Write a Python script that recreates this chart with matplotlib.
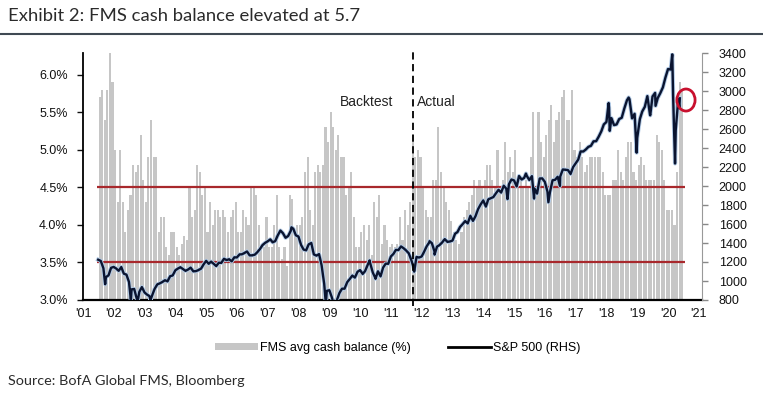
#!/usr/bin/env python3
"""FMS cash balance (bars, LHS) vs S&P 500 (line, RHS)."""

import matplotlib
matplotlib.use("Agg")
import matplotlib.pyplot as plt
import matplotlib.patheffects as pe
import pandas as pd
from matplotlib.lines import Line2D
from matplotlib.patches import Ellipse, Patch

# ---- data -------------------------------------------------------------
# FMS avg cash balance (%), monthly; 2001 starts in Jul, 2020 ends in Jun
cash_2001 = [5.7, 5.8, 5.4, 5.8, 6.3, 5.9]
cash_2002 = [5.0, 4.3, 5.0, 4.3, 3.9, 4.2, 4.4, 4.8, 4.7, 4.8, 5.2, 4.6]
cash_2003 = [4.3, 4.9, 5.4, 4.9, 4.9, 3.9, 4.1, 4.1, 3.7, 3.6, 3.9, 3.9]
cash_2004 = [3.7, 3.6, 3.75, 3.85, 3.8, 4.5, 4.1, 4.2, 4.8, 4.7, 4.4, 4.5]
cash_2005 = [3.9, 4.3, 4.0, 4.2, 4.2, 4.1, 4.2, 4.1, 3.9, 4.1, 4.2, 4.3]
cash_2006 = [3.9, 3.9, 4.2, 4.1, 4.0, 4.5, 4.5, 4.4, 4.0, 3.7, 3.7, 4.1]
cash_2007 = [3.7, 3.7, 4.0, 4.4, 3.7, 3.55, 3.7, 3.45, 4.4, 4.35, 3.9, 4.0]
cash_2008 = [4.0, 4.1, 4.7, 4.9, 4.2, 4.0, 4.7, 4.8, 4.7, 4.8, 5.3, 5.1]
cash_2009 = [5.5, 5.3, 5.0, 5.2, 4.9, 4.9, 4.4, 4.5, 4.7, 4.1, 3.7, 3.7]
cash_2010 = [3.9, 4.0, 3.8, 4.0, 3.6, 4.3, 4.1, 4.4, 3.75, 4.0, 3.8, 3.7]
cash_2011 = [3.75, 3.7, 3.75, 4.1, 3.8, 4.2, 4.0, 4.3, 5.2, 4.9, 5.0, 4.9]
cash_2012 = [4.5, 4.2, 4.1, 4.1, 4.6, 4.6, 5.3, 4.7, 4.5, 4.3, 4.2, 4.05]
cash_2013 = [3.9, 3.8, 3.75, 3.9, 4.1, 4.2, 4.3, 4.4, 4.6, 4.5, 4.6, 4.5]
cash_2014 = [4.6, 4.8, 4.8, 4.6, 4.5, 5.0, 4.5, 4.6, 5.1, 4.7, 4.9, 4.7]
cash_2015 = [5.0, 4.5, 4.6, 4.5, 4.6, 4.5, 4.9, 5.5, 4.5, 5.5, 5.1, 4.9]
cash_2016 = [5.2, 5.4, 5.6, 5.1, 5.4, 5.5, 5.7, 5.8, 5.4, 5.4, 5.8, 5.0]
cash_2017 = [4.9, 5.1, 4.9, 4.7, 4.8, 4.9, 4.9, 4.9, 4.9, 4.9, 4.7, 4.4]
cash_2018 = [4.4, 4.4, 4.6, 4.6, 5.0, 4.7, 4.6, 4.9, 5.1, 5.1, 4.7, 4.6]
cash_2019 = [4.8, 4.9, 4.8, 4.6, 4.6, 4.6, 4.6, 5.2, 5.1, 5.0, 4.6, 4.2]
cash_2020 = [4.2, 4.2, 4.0, 4.7, 5.9, 5.8]

# S&P 500 month-end closes; 2001 starts in Jun, 2020 ends in Apr
spx_2001 = [1224, 1211, 1134, 1041, 1060, 1139, 1148]
spx_2002 = [1130, 1107, 1147, 1077, 1067, 990, 912, 916, 815, 886, 936, 880]
spx_2003 = [856, 841, 848, 917, 964, 975, 990, 1008, 996, 1051, 1058, 1112]
spx_2004 = [1131, 1145, 1126, 1107, 1121, 1141, 1102, 1104, 1115, 1130, 1174, 1212]
spx_2005 = [1181, 1204, 1181, 1157, 1192, 1191, 1234, 1220, 1229, 1207, 1249, 1248]
spx_2006 = [1280, 1281, 1295, 1311, 1270, 1270, 1277, 1304, 1336, 1378, 1401, 1418]
spx_2007 = [1438, 1407, 1421, 1482, 1531, 1503, 1455, 1474, 1527, 1549, 1481, 1468]
spx_2008 = [1379, 1331, 1323, 1386, 1400, 1280, 1267, 1283, 1166, 969, 896, 903]
spx_2009 = [826, 735, 798, 873, 919, 919, 987, 1021, 1057, 1036, 1096, 1115]
spx_2010 = [1074, 1104, 1169, 1187, 1089, 1031, 1102, 1049, 1141, 1183, 1181, 1258]
spx_2011 = [1286, 1327, 1326, 1364, 1345, 1321, 1292, 1219, 1131, 1253, 1247, 1258]
spx_2012 = [1312, 1366, 1408, 1398, 1310, 1362, 1379, 1407, 1441, 1412, 1416, 1426]
spx_2013 = [1498, 1515, 1569, 1598, 1631, 1606, 1686, 1633, 1682, 1757, 1806, 1848]
spx_2014 = [1783, 1859, 1872, 1884, 1924, 1960, 1931, 2003, 1972, 2018, 2068, 2059]
spx_2015 = [1995, 2105, 2068, 2086, 2107, 2063, 2104, 1972, 1920, 2079, 2080, 2044]
spx_2016 = [1940, 1932, 2060, 2065, 2097, 2099, 2174, 2171, 2168, 2126, 2199, 2239]
spx_2017 = [2279, 2364, 2363, 2384, 2412, 2423, 2470, 2472, 2519, 2575, 2648, 2674]
spx_2018 = [2824, 2714, 2641, 2648, 2705, 2718, 2816, 2902, 2914, 2712, 2760, 2507]
spx_2019 = [2704, 2784, 2834, 2946, 2752, 2942, 2980, 2926, 2977, 3038, 3141, 3231]
spx_2020 = [3226, 2954, 2585, 2912]

# intra-month highs / lows that show up in the daily line
spx_extra_dates = ["2001-09-21", "2002-07-23", "2002-10-09", "2003-03-11", "2007-10-09",
                   "2008-11-20", "2009-03-09", "2010-04-23", "2010-07-02", "2011-04-29",
                   "2011-10-03", "2012-04-02", "2012-06-01", "2014-10-15", "2015-05-21",
                   "2015-08-25", "2016-02-11", "2016-06-27", "2018-01-26", "2018-02-08",
                   "2018-09-20", "2018-12-24", "2019-06-03", "2019-08-05", "2020-02-19",
                   "2020-03-23", "2020-05-13", "2020-05-19"]
spx_extra_values = [966, 797, 777, 800, 1565,
                    752, 677, 1217, 1023, 1364,
                    1099, 1419, 1278, 1862, 2131,
                    1868, 1829, 2001, 2873, 2581,
                    2931, 2351, 2744, 2844, 3386,
                    2237, 2820, 2923]

cash_pct_ticks = [3.0, 3.5, 4.0, 4.5, 5.0, 5.5, 6.0]
spx_ticks = list(range(800, 3401, 200))
year_ticks = list(range(2001, 2022))
thresholds = [4.5, 3.5]
actual_start = 2011.72


def decimal_year(ts: pd.Timestamp) -> float:
    return ts.year + (ts.dayofyear - 1) / 365.25


def build_cash():
    years = {2001: cash_2001, 2002: cash_2002, 2003: cash_2003, 2004: cash_2004,
             2005: cash_2005, 2006: cash_2006, 2007: cash_2007, 2008: cash_2008,
             2009: cash_2009, 2010: cash_2010, 2011: cash_2011, 2012: cash_2012,
             2013: cash_2013, 2014: cash_2014, 2015: cash_2015, 2016: cash_2016,
             2017: cash_2017, 2018: cash_2018, 2019: cash_2019, 2020: cash_2020}
    xs, vals = [], []
    for yr, v in years.items():
        first = 7 if yr == 2001 else 1
        for i, val in enumerate(v):
            xs.append(yr + (first + i - 0.5) / 12)
            vals.append(val)
    return xs, vals


def build_spx():
    years = {2001: spx_2001, 2002: spx_2002, 2003: spx_2003, 2004: spx_2004,
             2005: spx_2005, 2006: spx_2006, 2007: spx_2007, 2008: spx_2008,
             2009: spx_2009, 2010: spx_2010, 2011: spx_2011, 2012: spx_2012,
             2013: spx_2013, 2014: spx_2014, 2015: spx_2015, 2016: spx_2016,
             2017: spx_2017, 2018: spx_2018, 2019: spx_2019, 2020: spx_2020}
    rows = []
    for yr, v in years.items():
        first = 6 if yr == 2001 else 1
        for i, val in enumerate(v):
            rows.append((pd.Timestamp(yr, first + i, 1) + pd.offsets.MonthEnd(0), val))
    for d, val in zip(spx_extra_dates, spx_extra_values):
        rows.append((pd.Timestamp(d), val))
    df = pd.DataFrame(rows, columns=["date", "spx"]).sort_values("date")
    return [decimal_year(d) for d in df["date"]], df["spx"].tolist()


# ---- plot -------------------------------------------------------------
plt.rcParams["font.family"] = ["Liberation Sans", "DejaVu Sans"]

W, H = 763, 397
fig = plt.figure(figsize=(W / 100, H / 100), dpi=100)
ax = fig.add_axes([83 / W, 1 - 300 / H, (702 - 83) / W, (300 - 53) / H])
ax2 = ax.twinx()

cx, cv = build_cash()
ax.bar(cx, cv, width=0.068, color="#c6c6c6", edgecolor="none", zorder=1)
ax.hlines(thresholds, 2001.47, 2020.55, color="#a8282c", lw=1.6, zorder=2)
ax.set_xlim(2001, 2021.1)
ax.set_ylim(3.0, 6.29)
ax.set_yticks(cash_pct_ticks)
ax.set_yticklabels([f"{t:.1f}%" for t in cash_pct_ticks])
ax.set_xticks(year_ticks)
ax.set_xticklabels([f"'{y % 100:02d}" for y in year_ticks])
ax.tick_params(axis="y", direction="out", length=4, width=1, pad=7, labelsize=9, colors="#111111")
ax.tick_params(axis="x", length=0, pad=6, labelsize=9, colors="#111111")

sx, sv = build_spx()
ax2.plot(sx, sv, color="#0a1430", lw=1.7, zorder=3,
         path_effects=[pe.Stroke(linewidth=3.0, foreground="#b3cbe6"), pe.Normal()])
ax2.set_ylim(800, 3400)
ax2.set_yticks(spx_ticks)
ax2.tick_params(axis="y", direction="out", length=4, width=1, pad=8, labelsize=9,
                colors="#888888", labelcolor="#111111")

ax2.axvline(actual_start, ymin=-0.025, ymax=1.015, color="black", lw=1.3,
            ls=(0, (4, 2.5)), clip_on=False, zorder=5)
ax2.text(actual_start - 0.65, 2880, "Backtest", ha="right", va="center", fontsize=10, color="#222222")
ax2.text(actual_start + 0.12, 2880, "Actual", ha="left", va="center", fontsize=10, color="#222222")
ax2.add_patch(Ellipse((2020.58, 2905), width=0.59, height=232, fill=False,
                      ec="#c8102e", lw=2, clip_on=False, zorder=6))

for a in (ax, ax2):
    a.spines["top"].set_visible(False)
ax.spines["right"].set_visible(False)
ax2.spines["left"].set_visible(False)
ax2.spines["bottom"].set_visible(False)
ax.spines["left"].set_linewidth(1.3)
ax.spines["bottom"].set_linewidth(1.6)
ax2.spines["right"].set_color("#999999")

handles = [Patch(facecolor="#c6c6c6", edgecolor="none"),
           Line2D([], [], color="black", lw=2)]
fig.legend(handles, ["FMS avg cash balance (%)", "S&P 500 (RHS)"],
           loc="center", bbox_to_anchor=(398 / W, 1 - 348 / H), ncol=2, frameon=False,
           fontsize=9, handlelength=3.4, handleheight=0.55, handletextpad=0.2,
           columnspacing=3.0)

fig.text(8 / W, 1 - 16 / H, "Exhibit 2: FMS cash balance elevated at 5.7",
         ha="left", va="center", fontsize=13.3, family="Lato", color="#2b2b2b")
fig.add_artist(Line2D([0, 1], [1 - 34 / H, 1 - 34 / H], color="#3f4953", lw=1.5))
fig.text(8 / W, 1 - 381 / H, "Source: BofA Global FMS, Bloomberg",
         ha="left", va="center", fontsize=10.4, family="Lato", color="#2b2b2b")

fig.savefig("out.png", dpi=100)
